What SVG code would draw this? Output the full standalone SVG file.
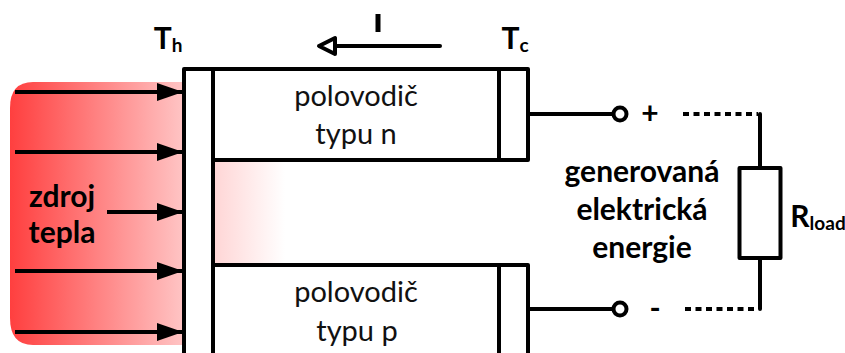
<svg xmlns="http://www.w3.org/2000/svg" width="845" height="353" viewBox="0 0 845 353">
<style>
.w{fill:none;stroke:#000;stroke-width:4;stroke-linecap:round;stroke-linejoin:round}
.d{fill:none;stroke:#000;stroke-width:4;stroke-dasharray:6 4.500}
.t{font-family:"Lato","Open Sans",sans-serif;font-size:29px;fill:#111;text-anchor:middle}
.b{font-family:"Lato","Open Sans",sans-serif;font-size:30px;font-weight:700;fill:#000;text-anchor:middle}
.s{font-size:19px}
.a{fill:none;stroke:#000;stroke-width:4;marker-end:url(#h)}
</style>
<defs>
<linearGradient id="r" x1="0" x2="1" y1="0" y2="0"><stop offset="0" stop-color="#ff3f3f"/><stop offset="1" stop-color="#ffc4c4"/></linearGradient>
<linearGradient id="f" x1="0" x2="1" y1="0" y2="0"><stop offset="0" stop-color="#ffd6d6"/><stop offset="1" stop-color="#fff"/></linearGradient>
<marker id="h" markerUnits="userSpaceOnUse" markerWidth="26" markerHeight="18" refX="26" refY="9" orient="auto"><path d="M0 0L26 9L0 18Z" fill="#000"/></marker>
</defs>
<g id="heat-source">
<path d="M33 82H183V345H33Q10 345 10 318V108Q10 82 33 82Z" fill="url(#r)"/>
<text class="b" x="62" y="207">zdroj</text>
<text class="b" x="62" y="243">tepla</text>
</g>
<g id="heat-fade"><rect x="215" y="162" width="70" height="102" fill="url(#f)"/></g>
<g id="hot-plate">
<path class="w" d="M184 355V69H213V355"/>
<text class="b" x="168" y="49">T<tspan class="s" dy="3">h</tspan></text>
</g>
<g id="n-type">
<path class="w" d="M213 69H499V160H213"/>
<text class="t" x="356" y="106">polovodič</text>
<text class="t" x="356" y="144">typu n</text>
</g>
<g id="p-type">
<path class="w" d="M213 265H499V355"/>
<text class="t" x="356" y="302">polovodič</text>
<text class="t" x="357" y="341">typu p</text>
</g>
<g id="cold-plate-top">
<path class="w" d="M499 69H528V160H499"/>
<text class="b" x="515" y="49">T<tspan class="s" dy="3">c</tspan></text>
</g>
<g id="cold-plate-bottom"><path class="w" d="M499 265H528V355"/></g>
<g id="terminal-plus">
<circle cx="620" cy="114" r="6.5" fill="#fff" stroke="#000" stroke-width="4"/>
<text class="b" x="650" y="124">+</text>
</g>
<g id="terminal-minus">
<circle cx="620" cy="309" r="6.5" fill="#fff" stroke="#000" stroke-width="4"/>
<text class="b" x="655" y="319">-</text>
</g>
<g id="load">
<rect class="w" x="739.500" y="168" width="41" height="90" fill="#fff"/>
<text class="b" x="818" y="227">R<tspan class="s" dy="3">load</tspan></text>
</g>
<text class="b" x="642" y="182">generovaná</text>
<text class="b" x="642" y="220">elektrická</text>
<text class="b" x="642" y="258">energie</text>
<g id="connectors">
<path class="a" d="M15 92H183"/>
<path class="a" d="M15 152H183"/>
<path class="a" d="M107 212H183"/>
<path class="a" d="M15 271H183"/>
<path class="a" d="M15 332H183"/>
<path class="w" d="M440 46H336"/>
<path d="M319 46L335 38V54Z" fill="#fff" stroke="#000" stroke-width="4" stroke-linejoin="round"/>
<path d="M378 14V32" fill="none" stroke="#000" stroke-width="5"/>
<path class="w" d="M528 114H613M528 309H613"/>
<path class="d" d="M683 114H758M685 309H758"/>
<path class="w" d="M760 114V167M760 259V309"/>
</g>
</svg>
